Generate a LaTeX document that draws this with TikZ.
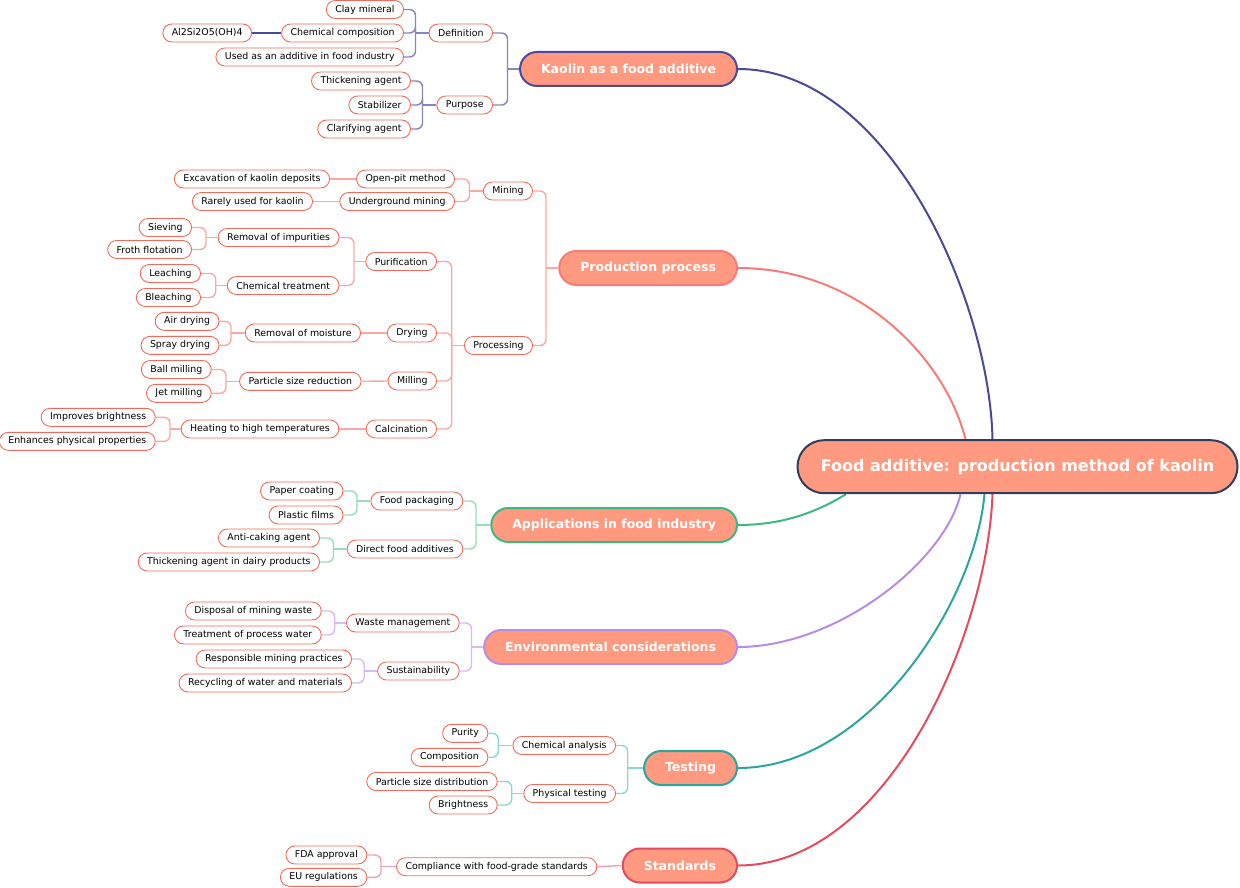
\documentclass[tikz,border=0pt]{standalone}
\usepackage{fontspec}
\setmainfont{DejaVu Sans}
\usetikzlibrary{backgrounds}
\definecolor{nodefill}{HTML}{FF9A80}
\definecolor{leafborder}{HTML}{F26B5A}
\definecolor{cK}{HTML}{4A4A96}\definecolor{cKl}{HTML}{8585C0}
\definecolor{cP}{HTML}{F77B78}\definecolor{cPl}{HTML}{F9A9A3}
\definecolor{cA}{HTML}{3DB97D}\definecolor{cAl}{HTML}{98DDBA}
\definecolor{cE}{HTML}{B98CE4}\definecolor{cEl}{HTML}{D8BBF2}
\definecolor{cT}{HTML}{2AA69E}\definecolor{cTl}{HTML}{8ED6D1}
\definecolor{cS}{HTML}{E24B60}\definecolor{cSl}{HTML}{F3A2AD}
\definecolor{cR}{HTML}{2E3F5E}
\tikzset{
  leaf/.style={draw=leafborder, line width=0.9pt, fill=white, rounded corners=9pt,
    minimum height=18pt, inner xsep=9pt, inner ysep=0pt, anchor=east,
    font=\fontsize{9.4}{11}\selectfont, text=black},
  mainnode/.style={fill=nodefill, line width=2pt, rounded corners=17pt,
    minimum height=34pt, inner xsep=21pt, inner ysep=0pt, anchor=east,
    font=\bfseries\fontsize{12.5}{15}\selectfont, text=white},
  rootnode/.style={fill=nodefill, draw=cR, line width=2pt, rounded corners=26.5pt,
    minimum height=53pt, minimum width=440pt, inner ysep=0pt,
    font=\bfseries\fontsize{16}{19}\selectfont, text=white},
  subline/.style={line width=1.4pt},
  curve/.style={line width=2pt},
}
\newcommand{\bracketto}[4]{%
  \draw[#1, subline] (#2.west) -- (#3,0 |- #2.west) coordinate (tmpj);
  \foreach \c in {#4}{\draw[#1, subline, rounded corners=6pt] (tmpj) |- (\c.east);}}
\begin{document}
\begin{tikzpicture}[x=1pt,y=-1pt]
\useasboundingbox (0,0) rectangle (1240,888);
% ---------- Kaolin as a food additive
\node[mainnode, draw=cK] (kaolin) at (738,69) {Kaolin as a food additive};
\node[leaf] (def) at (493,33) {Definition};
\node[leaf] (pur) at (493,105) {Purpose};
\node[leaf] (clay) at (404,9.5) {Clay mineral};
\node[leaf] (chem) at (404,33) {Chemical composition};
\node[leaf] (used) at (404,57) {Used as an additive in food industry};
\node[leaf] (formula) at (252,33) {Al2Si2O5(OH)4};
\node[leaf] (thick) at (411,81) {Thickening agent};
\node[leaf] (stab) at (411,105) {Stabilizer};
\node[leaf] (clar) at (411,129) {Clarifying agent};
\bracketto{cKl}{kaolin}{507.5}{def,pur}
\bracketto{cKl}{def}{415.5}{clay,chem,used}
\bracketto{cKl}{pur}{422.5}{thick,stab,clar}
\draw[cK, subline] (chem.west) -- (formula.east);
% ---------- Production process
\node[mainnode, draw=cP] (prod) at (738,268) {Production process};
\node[leaf] (mining) at (533,191) {Mining};
\node[leaf] (proc) at (533,345.5) {Processing};
\node[leaf] (openpit) at (455,179) {Open-pit method};
\node[leaf] (under) at (455,201.5) {Underground mining};
\node[leaf] (excav) at (330,179) {Excavation of kaolin deposits};
\node[leaf] (rarely) at (313,201.5) {Rarely used for kaolin};
\node[leaf] (purif) at (437,261.5) {Purification};
\node[leaf] (drying) at (437,333) {Drying};
\node[leaf] (milling) at (437,381) {Milling};
\node[leaf] (calc) at (437,429) {Calcination};
\node[leaf] (remimp) at (339.5,237.5) {Removal of impurities};
\node[leaf] (chemtr) at (339.5,285.5) {Chemical treatment};
\node[leaf] (siev) at (192,227.5) {Sieving};
\node[leaf] (froth) at (192,249.5) {Froth flotation};
\node[leaf] (leach) at (201,273.5) {Leaching};
\node[leaf] (bleach) at (201,297.5) {Bleaching};
\node[leaf] (remmoist) at (361,333) {Removal of moisture};
\node[leaf] (air) at (219.5,321.3) {Air drying};
\node[leaf] (spray) at (219.5,345.3) {Spray drying};
\node[leaf] (psr) at (361.5,381.3) {Particle size reduction};
\node[leaf] (ball) at (211.7,369.5) {Ball milling};
\node[leaf] (jet) at (211.7,393.3) {Jet milling};
\node[leaf] (heat) at (339.3,429) {Heating to high temperatures};
\node[leaf] (impr) at (155.7,417.3) {Improves brightness};
\node[leaf] (enh) at (155.7,441.3) {Enhances physical properties};
\bracketto{cPl}{prod}{546}{mining,proc}
\bracketto{cPl}{mining}{469.5}{openpit,under}
\draw[cPl, subline] (openpit.west) -- (excav.east);
\draw[cPl, subline] (under.west) -- (rarely.east);
\bracketto{cPl}{proc}{451.7}{purif,drying,milling,calc}
\bracketto{cPl}{purif}{354}{remimp,chemtr}
\bracketto{cPl}{remimp}{206}{siev,froth}
\bracketto{cPl}{chemtr}{215.7}{leach,bleach}
\draw[cPl, subline] (drying.west) -- (remmoist.east);
\bracketto{cPl}{remmoist}{231}{air,spray}
\draw[cPl, subline] (milling.west) -- (psr.east);
\bracketto{cPl}{psr}{226}{ball,jet}
\draw[cPl, subline] (calc.west) -- (heat.east);
\bracketto{cPl}{heat}{170}{impr,enh}
% ---------- Applications
\node[mainnode, draw=cA] (app) at (738,525) {Applications in food industry};
\node[leaf] (foodpack) at (463.3,501) {Food packaging};
\node[leaf] (direct) at (463.3,549) {Direct food additives};
\node[leaf] (paper) at (343.5,491) {Paper coating};
\node[leaf] (plastic) at (343.5,515) {Plastic films};
\node[leaf] (anticake) at (320,538) {Anti-caking agent};
\node[leaf] (dairy) at (320,562) {Thickening agent in dairy products};
\bracketto{cAl}{app}{476}{foodpack,direct}
\bracketto{cAl}{foodpack}{357}{paper,plastic}
\bracketto{cAl}{direct}{333.5}{anticake,dairy}
% ---------- Environmental
\node[mainnode, draw=cE] (env) at (738,647) {Environmental considerations};
\node[leaf] (waste) at (459.7,623) {Waste management};
\node[leaf] (sustain) at (459.7,671) {Sustainability};
\node[leaf] (disposal) at (321.7,611) {Disposal of mining waste};
\node[leaf] (treat) at (321.7,635) {Treatment of process water};
\node[leaf] (respons) at (352,659) {Responsible mining practices};
\node[leaf] (recyc) at (352,683) {Recycling of water and materials};
\bracketto{cEl}{env}{471.5}{waste,sustain}
\bracketto{cEl}{waste}{334.6}{disposal,treat}
\bracketto{cEl}{sustain}{364.2}{respons,recyc}
% ---------- Testing
\node[mainnode, draw=cT] (test) at (738,768) {Testing};
\node[leaf] (chemana) at (616,745.5) {Chemical analysis};
\node[leaf] (phys) at (616,793.5) {Physical testing};
\node[leaf] (purity) at (488.3,733.3) {Purity};
\node[leaf] (compo) at (488.3,757.3) {Composition};
\node[leaf] (psd) at (497.7,781.5) {Particle size distribution};
\node[leaf] (bright) at (497.7,805) {Brightness};
\bracketto{cTl}{test}{627.7}{chemana,phys}
\bracketto{cTl}{chemana}{498.3}{purity,compo}
\bracketto{cTl}{phys}{511.7}{psd,bright}
% ---------- Standards
\node[mainnode, draw=cS] (std) at (738,865.5) {Standards};
\node[leaf] (compl) at (597.3,866.7) {Compliance with food-grade standards};
\node[leaf] (fda) at (367.3,855) {FDA approval};
\node[leaf] (eu) at (367.3,877.3) {EU regulations};
\draw[cSl, subline] (std.west) -- (compl.east);
\bracketto{cSl}{compl}{381}{fda,eu}
% ---------- Root
\node[rootnode] (root) at (1017.5,466.7) {Food additive: production method of kaolin};
\begin{scope}[on background layer]
\draw[cK, curve] (kaolin.east) .. controls +(150,0) and +(-3,-140) .. ([xshift=-25pt]root.north);
\draw[cP, curve] (prod.east) .. controls +(122,0) and +(-20,-80) .. ([xshift=-52pt]root.north);
\draw[cA, curve] (app.east) .. controls +(50,0) and +(-25,15) .. ([xshift=-171.5pt]root.south);
\draw[cE, curve] (env.east) .. controls +(100,0) and +(-15.5,66.5) .. ([xshift=-57pt]root.south);
\draw[cT, curve] (test.east) .. controls +(130,0) and +(-10,110) .. ([xshift=-33pt]root.south);
\draw[cS, curve] (std.east) .. controls +(150,0) and +(-5,140) .. ([xshift=-25pt]root.south);
\end{scope}
\end{tikzpicture}
\end{document}
